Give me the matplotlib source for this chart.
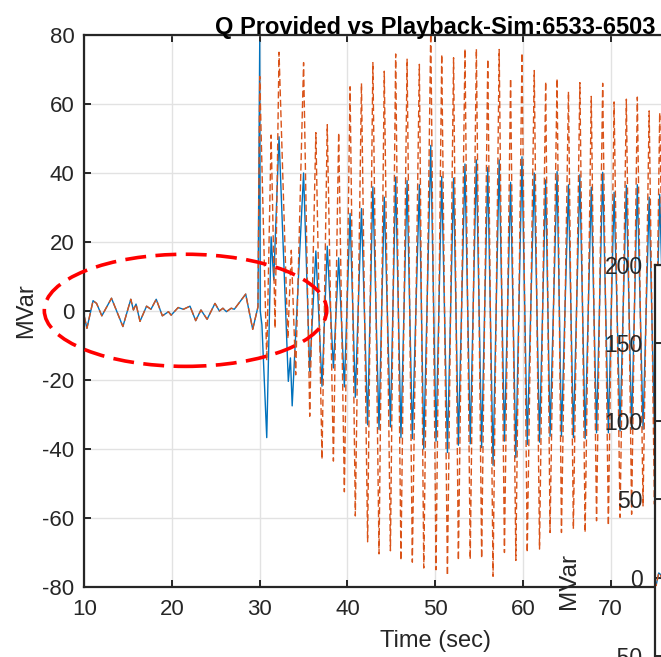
import numpy as np
import matplotlib.pyplot as plt
from matplotlib.patches import Ellipse

# quiet part before the event (both traces nearly identical)
t_pre = [10.0, 10.3, 11.0, 11.4, 12.0, 13.1, 14.4, 15.3, 15.6, 15.9, 16.35,
         17.1, 17.6, 18.2, 18.9, 19.6, 19.9, 20.7, 21.3, 22.05, 22.7, 23.3,
         24.0, 24.9, 25.4, 25.8, 26.2, 26.75, 27.1, 28.4, 29.2, 29.8]
q_pre = [-1.6, -5.0, 3.0, 2.2, -1.4, 3.7, -4.5, 3.4, 0.3, 2.0, -3.0,
         1.4, 0.5, 3.4, -1.4, -0.2, -1.2, 1.0, 0.5, 1.4, -2.8, 0.3,
         -2.4, 2.2, 0.0, 0.8, -0.2, 0.8, 0.5, 4.9, -5.3, 1.2]

# Q provided (solid blue), extremes
t_blue = [30.0, 30.06, 30.25, 30.8, 31.3, 31.6, 32.2, 33.26, 33.5, 33.7,
          35.0, 35.7, 36.4, 37.1, 37.7, 38.4, 39.0, 39.65, 40.3, 40.9,
          41.6, 42.3, 42.9, 43.6, 44.2, 44.9, 45.5, 46.1, 46.8, 47.4,
          48.2, 48.7, 49.5, 50.1, 50.75, 51.4, 52.1, 52.65, 53.4, 54.0,
          54.7, 55.3, 56.0, 56.6, 57.3, 57.9, 58.6, 59.2, 59.9, 60.5,
          61.3, 61.9, 62.6, 63.1, 63.9, 64.4, 65.2, 65.76, 66.5, 67.1,
          67.8, 68.4, 69.1, 69.75, 70.4, 71.08, 71.8, 72.4, 73.05, 73.7,
          74.4, 75.0, 75.6, 76.3, 77.0]
q_blue = [78.0, 0.0, -4.0, -36.7, 21.5, 9.0, 50.5, -20.4, -13.6, -27.5,
          40.0, -17.5, 17.4, -21.8, 18.8, -16.5, 15.4, -22.0, 28.3, -25.0,
          29.7, -33.0, 36.0, -34.3, 33.0, -33.6, 38.8, -36.7, 37.8, -37.0,
          36.6, -40.0, 48.0, -37.7, 39.0, -41.0, 38.5, -38.9, 42.6, -38.5,
          43.8, -39.6, 41.6, -44.7, 43.8, -37.7, 37.3, -42.5, 44.7, -38.7,
          40.0, -38.0, 38.0, -36.3, 40.4, -36.3, 36.6, -36.7, 39.5, -37.0,
          35.9, -35.3, 40.2, -35.3, 34.4, -34.8, 36.4, -34.3, 36.6, -34.3,
          33.0, -34.0, 33.8, -33.0, 34.0]

# playback sim (dashed orange)
t_orange = [30.0, 30.8, 31.3, 31.75, 32.2, 33.2, 33.6, 34.1, 35.0, 35.7,
            36.4, 37.1, 37.7, 38.4, 39.0, 39.65, 40.3, 40.9, 41.6, 42.3,
            42.9, 43.6, 44.2, 44.9, 45.5, 46.1, 46.8, 47.4, 48.2, 48.7,
            49.5, 50.1, 50.75, 51.4, 52.1, 52.65, 53.4, 54.0, 54.7, 55.3,
            56.0, 56.6, 57.3, 57.9, 58.6, 59.2, 59.9, 60.5, 61.3, 61.9,
            62.6, 63.1, 63.9, 64.4, 65.2, 65.76, 66.5, 67.1, 67.8, 68.4,
            69.1, 69.75, 70.4, 71.08, 71.8, 72.4, 73.05, 73.7, 74.4, 75.0,
            75.6, 76.3, 77.0]
q_orange = [68.0, -14.4, 51.0, -5.0, 75.0, -8.0, 17.6, -18.5, 72.0, -30.5,
            51.7, -43.0, 54.0, -43.5, 51.7, -52.4, 65.0, -59.4, 66.0, -66.9,
            72.0, -70.4, 69.5, -69.5, 74.5, -72.3, 73.0, -72.8, 71.5, -74.5,
            82.0, -75.0, 74.4, -76.7, 73.4, -72.3, 76.0, -72.0, 76.0, -71.7,
            73.0, -76.9, 75.8, -70.0, 67.4, -72.3, 74.8, -70.0, 69.7, -69.0,
            66.5, -64.2, 67.4, -64.2, 63.6, -63.2, 66.2, -64.2, 62.2, -60.8,
            66.0, -62.2, 60.6, -59.8, 61.4, -58.9, 62.0, -56.5, 58.0, -56.0,
            57.5, -55.0, 56.0]

x_ticks = [10, 20, 30, 40, 50, 60, 70]
y_ticks = [-80, -60, -40, -20, 0, 20, 40, 60, 80]
y2_ticks = [-50, 0, 50, 100, 150, 200]

BLUE = '#0072BD'
ORANGE = '#D95319'
TXT = '#262626'
GRID = '#e2e2e2'

plt.rcParams['font.family'] = ['Liberation Sans', 'DejaVu Sans']
plt.rcParams['axes.unicode_minus'] = False

blue_t = np.array(t_pre + t_blue)
blue_q = np.array(q_pre + q_blue)
orange_t = np.array(t_pre + t_orange)
orange_q = np.array(q_pre + q_orange)


def style_axes(ax, size):
    'MATLAB-like box, grid and inward ticks.'
    for sp in ax.spines.values():
        sp.set_color(TXT)
        sp.set_linewidth(1.6)
    ax.tick_params(direction='in', length=5, width=1.4, colors=TXT,
                   labelsize=size, pad=8.5, top=True, right=True)
    ax.grid(True, color=GRID, lw=1.0)
    ax.set_axisbelow(True)


fig = plt.figure(figsize=(6.61, 6.57), dpi=100)

ax = fig.add_axes([84.3 / 661, 70 / 657, 701.7 / 661, 552 / 657])
ax.plot(blue_t, blue_q, color=BLUE, lw=1.0)
ax.plot(orange_t, orange_q, color=ORANGE, lw=1.0, ls='--', dashes=(5, 2.5))
ax.set_xlim(10, 90)
ax.set_ylim(-80, 80)
ax.set_xticks(x_ticks)
ax.set_yticks(y_ticks)
style_axes(ax, 16)
ax.tick_params(axis='y', pad=7)
ax.set_xlabel('Time (sec)', fontsize=17, color=TXT)
ax.set_ylabel('MVar', fontsize=17, color=TXT)
ax.xaxis.set_label_coords(0.5, -0.078)
ax.yaxis.set_label_coords(-0.067, 0.5)
ax.set_title('Q Provided vs Playback-Sim:6533-6503', fontsize=17,
             fontweight='bold', color='black', pad=0.5)

ell = Ellipse((21.54, 0.2), 32.2, 32.5, fill=False, ec='#FF0000', lw=2.6,
              ls=(0, (5.8, 2.6)), clip_on=False, zorder=5)
ax.add_patch(ell)

# second panel peeking in at the lower right
ax2 = fig.add_axes([655 / 661, -77 / 657, 300 / 661, 469 / 657])
ax2.set_zorder(3)
ax2.set_facecolor('white')
ax2.plot(blue_t, blue_q, color=BLUE, lw=1.0)
ax2.plot(orange_t, orange_q, color=ORANGE, lw=1.0, ls='--', dashes=(5, 2.5))
ax2.set_xlim(10, 90)
ax2.set_ylim(-100, 200)
ax2.set_yticks(y2_ticks)
ax2.set_xticks([])
style_axes(ax2, 16.5)
ax2.tick_params(axis='y', pad=9)
ax2.set_ylabel('MVar', fontsize=17.5, color=TXT)
ax2.yaxis.set_label_coords(-0.25, 0.326)

fig.savefig('out.png', dpi=100)
